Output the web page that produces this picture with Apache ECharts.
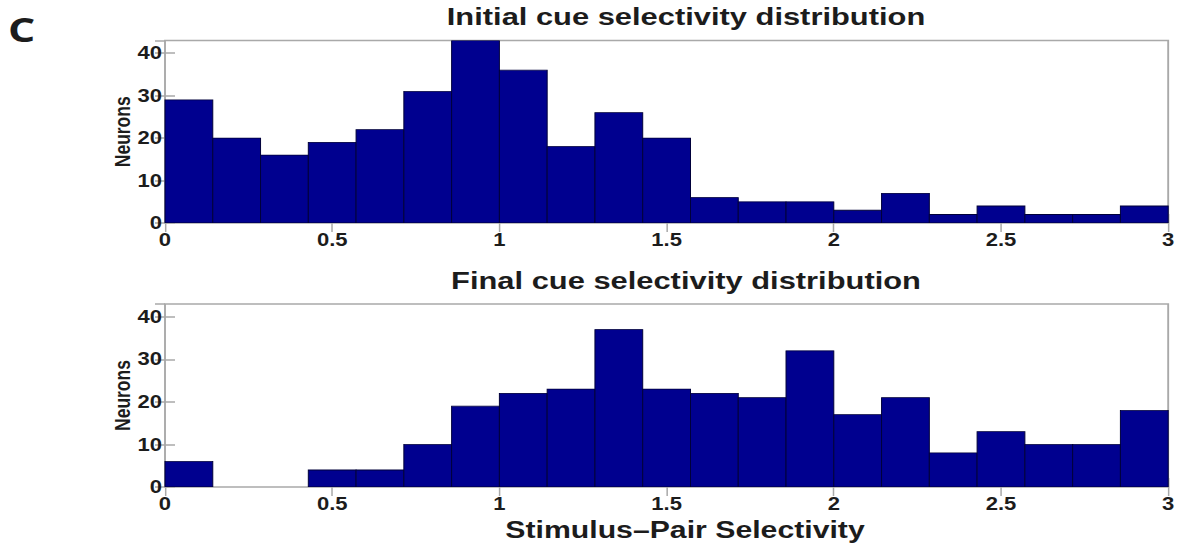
<!DOCTYPE html>
<html>
<head>
<meta charset="utf-8">
<style>
  html, body { margin: 0; padding: 0; background: #ffffff; overflow: hidden; }
  /* The figure is laid out in a narrower frame and widened horizontally,
     giving the broad, stretched lettering of the published panel. */
  #chart { height: 548px; transform-origin: 0 0; }
</style>
<script src="https://cdn.jsdelivr.net/npm/echarts@6/dist/echarts.min.js"></script>
</head>
<body>
<div id="chart"></div>
<script>
// Histogram of stimulus-pair selectivity: 21 equal bins spanning 0..3
const rangeMin = 0;
const rangeMax = 3;
const binCount = 21;

// Neuron counts per bin
const initialCounts = [29, 20, 16, 19, 22, 31, 43, 36, 18, 26, 20, 6, 5, 5, 3, 7, 2, 4, 2, 2, 4];
const finalCounts   = [6, 0, 0, 4, 4, 10, 19, 22, 23, 37, 23, 22, 21, 32, 17, 21, 8, 13, 10, 10, 18];

const yTicks = [0, 10, 20, 30, 40];
const xTicks = [0, 0.5, 1, 1.5, 2, 2.5, 3];

const titles = ['Initial cue selectivity distribution', 'Final cue selectivity distribution'];
const yLabel = 'Neurons';
const xLabel = 'Stimulus\u2013Pair Selectivity';
const panelLetter = 'C';

const binWidth = (rangeMax - rangeMin) / binCount;
function toBins(counts) {
  return counts.map((c, i) => [rangeMin + i * binWidth, rangeMin + (i + 1) * binWidth, c]);
}

// horizontal widening factor and page size
const SX = 1.26;
const PAGE_W = 1178;
const el = document.getElementById('chart');
el.style.width = (PAGE_W / SX) + 'px';
el.style.transform = 'scaleX(' + SX + ')';
const px = v => v / SX;   // page x -> layout x

const FONT = '"Liberation Sans", Arial, Helvetica, sans-serif';
const INK = '#1c1c1c';
const FRAME = '#a9a9a9';
const BAR = '#00008f';

const gridLeft = px(165), gridWidth = px(1006);
const textCenter = px(686);
const grids = [
  { left: gridLeft, top: 40.5, width: gridWidth, height: 182.5, show: true, borderColor: FRAME, borderWidth: 1.5, backgroundColor: '#fff' },
  { left: gridLeft, top: 304, width: gridWidth, height: 183, show: true, borderColor: FRAME, borderWidth: 1.5, backgroundColor: '#fff' }
];

const tickLabelStyle = { color: INK, fontFamily: FONT, fontWeight: 'bold', fontSize: 17.5 };

function xAxesFor(gi) {
  return [
    {
      type: 'value', gridIndex: gi, position: 'bottom', min: rangeMin, max: rangeMax, interval: 0.5,
      axisLine: { show: false },
      axisTick: { show: true, inside: true, length: 9, lineStyle: { color: FRAME, width: 1.2 } },
      axisLabel: { show: true, margin: 8, ...tickLabelStyle,
        formatter: v => (xTicks.indexOf(v) >= 0 ? String(v) : '') },
      splitLine: { show: false }
    },
    {
      type: 'value', gridIndex: gi, position: 'top', min: rangeMin, max: rangeMax, interval: 0.5,
      axisLine: { show: false },
      axisTick: { show: true, inside: true, length: 9, lineStyle: { color: FRAME, width: 1.2 } },
      axisLabel: { show: false },
      splitLine: { show: false }
    }
  ];
}

function yAxesFor(gi) {
  return [
    {
      type: 'value', gridIndex: gi, position: 'left', min: 0, max: 43, interval: 10,
      axisLine: { show: false },
      axisTick: { show: true, inside: true, length: px(10), lineStyle: { color: FRAME, width: 1.5 } },
      axisLabel: { show: true, margin: px(3), ...tickLabelStyle, showMaxLabel: false,
        formatter: v => (yTicks.indexOf(v) >= 0 ? String(v) : '') },
      splitLine: { show: false },
      name: yLabel, nameLocation: 'middle', nameRotate: 90, nameGap: 25,
      nameMoveOverlap: false,
      nameTextStyle: { color: INK, fontFamily: FONT, fontWeight: 'bold', fontSize: 17.5 }
    },
    {
      type: 'value', gridIndex: gi, position: 'right', min: 0, max: 43, interval: 10,
      axisLine: { show: false },
      axisTick: { show: true, inside: true, length: px(10), lineStyle: { color: FRAME, width: 1.5 } },
      axisLabel: { show: false },
      splitLine: { show: false }
    }
  ];
}

function histSeries(counts, xi, yi) {
  return {
    type: 'custom',
    xAxisIndex: xi, yAxisIndex: yi,
    clip: true,
    data: toBins(counts),
    encode: { x: [0, 1], y: 2 },
    renderItem: function (params, api) {
      const h = api.value(2);
      if (!h) return null;
      const p0 = api.coord([api.value(0), 0]);
      const p1 = api.coord([api.value(1), h]);
      return {
        type: 'rect',
        shape: { x: p0[0], y: p1[1], width: p1[0] - p0[0], height: p0[1] - p1[1] },
        style: { fill: BAR, stroke: '#00003a', lineWidth: 0.8 }
      };
    }
  };
}

const chart = echarts.init(el, null, { renderer: 'svg' });
chart.setOption({
  animation: false,
  backgroundColor: '#ffffff',
  grid: grids,
  xAxis: [...xAxesFor(0), ...xAxesFor(1)],
  yAxis: [...yAxesFor(0), ...yAxesFor(1)],
  series: [
    histSeries(initialCounts, 0, 0),
    histSeries(finalCounts, 2, 2)
  ],
  graphic: [
    { type: 'text', left: px(8), top: 12,
      style: { text: panelLetter, fill: INK, font: 'bold 34px "Open Sans", "Noto Sans", sans-serif' } },
    { type: 'text', x: textCenter, y: 17,
      style: { text: titles[0], fill: INK, font: 'bold 24.5px ' + FONT, textAlign: 'center', textVerticalAlign: 'middle' } },
    { type: 'text', x: textCenter, y: 281,
      style: { text: titles[1], fill: INK, font: 'bold 24.5px ' + FONT, textAlign: 'center', textVerticalAlign: 'middle' } },
    { type: 'text', x: px(685), y: 530,
      style: { text: xLabel, fill: INK, font: 'bold 24px ' + FONT, textAlign: 'center', textVerticalAlign: 'middle' } }
  ]
});
</script>
</body>
</html>
